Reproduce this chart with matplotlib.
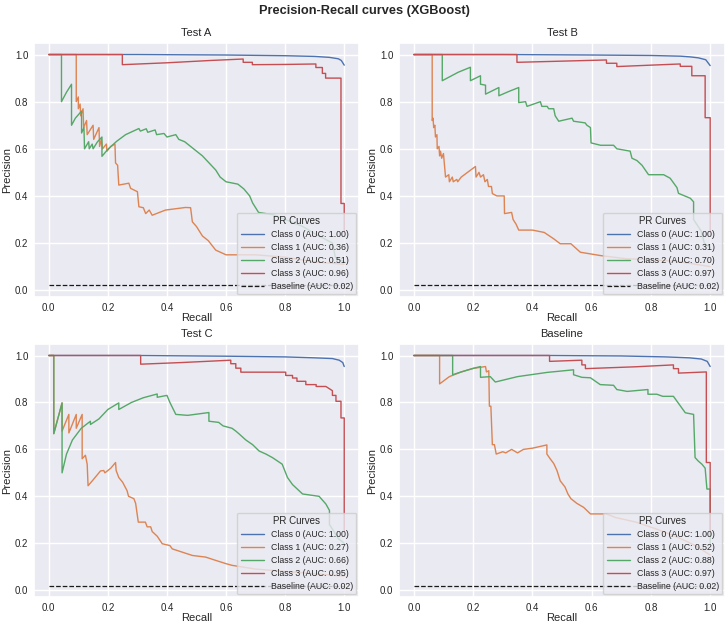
import numpy as np
import matplotlib
matplotlib.use('Agg')
import matplotlib.pyplot as plt
import seaborn as sns

# %% data (recall, precision) vertices
titles = ['Test A', 'Test B', 'Test C', 'Baseline']
auc_a = [1.00, 0.36, 0.51, 0.96]
auc_b = [1.00, 0.31, 0.70, 0.97]
auc_c = [1.00, 0.27, 0.66, 0.95]
auc_d = [1.00, 0.52, 0.88, 0.97]
baseline_auc = 0.02
baseline_prec = 0.02

a_class0 = [(0, 1), (0.3, 1), (0.6, 0.998), (0.8, 0.995), (0.9, 0.992), (0.95, 0.988),
            (0.98, 0.982), (0.99, 0.975), (1.0, 0.955)]
a_class1 = [(0, 1), (0.093, 1), (0.093, 0.80), (0.100, 0.82), (0.100, 0.77), (0.106, 0.79),
            (0.108, 0.74), (0.116, 0.77), (0.118, 0.69), (0.128, 0.72), (0.130, 0.66),
            (0.150, 0.70), (0.152, 0.64), (0.170, 0.69), (0.172, 0.61), (0.178, 0.64),
            (0.182, 0.60), (0.195, 0.62), (0.197, 0.59), (0.210, 0.61), (0.224, 0.62),
            (0.226, 0.54), (0.233, 0.53), (0.237, 0.446), (0.271, 0.454), (0.277, 0.432),
            (0.30, 0.418), (0.305, 0.354), (0.32, 0.35), (0.328, 0.325), (0.34, 0.34),
            (0.35, 0.318), (0.395, 0.34), (0.463, 0.351), (0.48, 0.35), (0.486, 0.29),
            (0.50, 0.27), (0.52, 0.23), (0.54, 0.21), (0.565, 0.17), (0.6, 0.15),
            (0.7, 0.15), (0.8, 0.14), (0.9, 0.12), (1.0, 0.11)]
a_class2 = [(0, 1), (0.043, 1), (0.043, 0.80), (0.06, 0.84), (0.077, 0.874), (0.077, 0.70),
            (0.09, 0.73), (0.111, 0.76), (0.111, 0.667), (0.119, 0.69), (0.121, 0.60),
            (0.135, 0.63), (0.137, 0.60), (0.147, 0.62), (0.15, 0.60), (0.165, 0.63),
            (0.18, 0.65), (0.18, 0.568), (0.20, 0.598), (0.23, 0.632), (0.26, 0.66),
            (0.305, 0.686), (0.31, 0.675), (0.33, 0.685), (0.335, 0.67), (0.36, 0.68),
            (0.365, 0.66), (0.39, 0.665), (0.40, 0.65), (0.43, 0.66), (0.44, 0.64),
            (0.46, 0.63), (0.48, 0.61), (0.50, 0.59), (0.52, 0.57), (0.535, 0.55),
            (0.565, 0.51), (0.58, 0.48), (0.60, 0.46), (0.64, 0.45), (0.66, 0.43),
            (0.68, 0.40), (0.69, 0.37), (0.71, 0.33), (0.76, 0.32), (0.82, 0.29),
            (0.86, 0.27), (0.9, 0.24), (0.96, 0.20), (0.97, 0.14), (1.0, 0.12)]
a_class3 = [(0, 1), (0.249, 1), (0.249, 0.957), (0.40, 0.965), (0.55, 0.975), (0.658, 0.981),
            (0.658, 0.967), (0.689, 0.967), (0.689, 0.957), (0.80, 0.958), (0.904, 0.96),
            (0.904, 0.945), (0.926, 0.945), (0.926, 0.92), (0.937, 0.92), (0.937, 0.90),
            (0.989, 0.90), (0.989, 0.368), (1.0, 0.368), (1.0, 0.25)]

b_class0 = [(0, 1), (0.3, 1), (0.6, 0.998), (0.8, 0.996), (0.9, 0.993), (0.933, 0.99),
            (0.96, 0.986), (0.985, 0.978), (1.0, 0.953)]
b_class1 = [(0, 1), (0.062, 1), (0.062, 0.72), (0.065, 0.73), (0.067, 0.69), (0.071, 0.70),
            (0.073, 0.65), (0.078, 0.66), (0.079, 0.60), (0.085, 0.61), (0.087, 0.57),
            (0.09, 0.59), (0.094, 0.56), (0.100, 0.58), (0.107, 0.48), (0.118, 0.49),
            (0.12, 0.46), (0.13, 0.48), (0.133, 0.46), (0.145, 0.47), (0.148, 0.46),
            (0.16, 0.48), (0.208, 0.525), (0.21, 0.48), (0.22, 0.50), (0.225, 0.48),
            (0.235, 0.49), (0.24, 0.46), (0.248, 0.47), (0.252, 0.44), (0.262, 0.44),
            (0.265, 0.41), (0.28, 0.40), (0.305, 0.40), (0.306, 0.325), (0.33, 0.33),
            (0.335, 0.30), (0.345, 0.28), (0.354, 0.255), (0.40, 0.255), (0.44, 0.245),
            (0.472, 0.218), (0.494, 0.197), (0.53, 0.197), (0.562, 0.161), (0.629, 0.147),
            (0.719, 0.133), (0.8, 0.13), (0.9, 0.12), (1.0, 0.10)]
b_class2 = [(0, 1), (0.096, 1), (0.096, 0.889), (0.12, 0.905), (0.15, 0.925), (0.191, 0.946),
            (0.191, 0.889), (0.225, 0.91), (0.225, 0.874), (0.242, 0.87), (0.242, 0.832),
            (0.287, 0.86), (0.287, 0.825), (0.32, 0.843), (0.354, 0.86), (0.354, 0.796),
            (0.377, 0.80), (0.382, 0.78), (0.427, 0.80), (0.432, 0.78), (0.45, 0.78),
            (0.455, 0.77), (0.472, 0.77), (0.477, 0.74), (0.489, 0.717), (0.534, 0.73),
            (0.539, 0.717), (0.578, 0.71), (0.584, 0.70), (0.596, 0.69), (0.598, 0.625),
            (0.63, 0.615), (0.674, 0.615), (0.685, 0.60), (0.73, 0.59), (0.736, 0.56),
            (0.753, 0.55), (0.77, 0.53), (0.792, 0.49), (0.843, 0.49), (0.865, 0.475),
            (0.888, 0.435), (0.893, 0.411), (0.933, 0.39), (0.944, 0.375), (0.944, 0.30),
            (0.97, 0.25), (0.98, 0.20), (1.0, 0.18)]
b_class3 = [(0, 1), (0.348, 1), (0.348, 0.967), (0.5, 0.972), (0.65, 0.977), (0.65, 0.963),
            (0.685, 0.963), (0.685, 0.949), (0.8, 0.955), (0.899, 0.96), (0.899, 0.95),
            (0.938, 0.95), (0.938, 0.91), (0.983, 0.91), (0.983, 0.732), (1.0, 0.732),
            (1.0, 0.25)]

c_class0 = [(0, 1), (0.3, 1), (0.6, 0.997), (0.8, 0.994), (0.9, 0.99), (0.96, 0.987),
            (0.983, 0.98), (0.995, 0.97), (1.0, 0.953)]
c_class1 = [(0, 1), (0.017, 1), (0.017, 0.667), (0.045, 0.798), (0.045, 0.678),
            (0.068, 0.749), (0.068, 0.67), (0.093, 0.749), (0.093, 0.69), (0.113, 0.749),
            (0.113, 0.56), (0.124, 0.575), (0.13, 0.537), (0.133, 0.445), (0.15, 0.47),
            (0.175, 0.508), (0.186, 0.51), (0.19, 0.50), (0.2, 0.51), (0.21, 0.52),
            (0.226, 0.544), (0.228, 0.51), (0.237, 0.48), (0.25, 0.46), (0.265, 0.424),
            (0.27, 0.40), (0.288, 0.39), (0.294, 0.37), (0.303, 0.29), (0.327, 0.29),
            (0.333, 0.27), (0.345, 0.27), (0.35, 0.25), (0.367, 0.23), (0.384, 0.198),
            (0.41, 0.19), (0.418, 0.176), (0.452, 0.162), (0.486, 0.148), (0.531, 0.141),
            (0.565, 0.127), (0.6, 0.113), (0.62, 0.106), (0.7, 0.09), (0.8, 0.08),
            (0.9, 0.07), (1.0, 0.06)]
c_class2 = [(0, 1), (0.017, 1), (0.017, 0.667), (0.045, 0.798), (0.045, 0.50), (0.06, 0.58),
            (0.08, 0.64), (0.11, 0.69), (0.141, 0.72), (0.141, 0.706), (0.17, 0.73),
            (0.20, 0.77), (0.237, 0.798), (0.237, 0.77), (0.28, 0.80), (0.32, 0.82),
            (0.367, 0.836), (0.367, 0.822), (0.40, 0.83), (0.41, 0.80), (0.43, 0.749),
            (0.47, 0.745), (0.542, 0.757), (0.542, 0.72), (0.575, 0.715), (0.59, 0.70),
            (0.62, 0.69), (0.633, 0.678), (0.645, 0.665), (0.667, 0.64), (0.69, 0.62),
            (0.712, 0.593), (0.735, 0.58), (0.757, 0.565), (0.79, 0.537), (0.808, 0.48),
            (0.825, 0.45), (0.859, 0.41), (0.915, 0.40), (0.938, 0.367), (0.95, 0.34),
            (0.95, 0.28), (0.98, 0.22), (1.0, 0.20)]
c_class3 = [(0, 1), (0.311, 1), (0.311, 0.963), (0.45, 0.97), (0.616, 0.98), (0.616, 0.965),
            (0.633, 0.965), (0.633, 0.946), (0.65, 0.946), (0.65, 0.929), (0.802, 0.929),
            (0.802, 0.915), (0.825, 0.915), (0.825, 0.904), (0.84, 0.904), (0.84, 0.89),
            (0.87, 0.89), (0.87, 0.876), (0.905, 0.876), (0.905, 0.868), (0.938, 0.868),
            (0.96, 0.85), (0.96, 0.83), (0.972, 0.83), (0.972, 0.805), (0.989, 0.805),
            (0.989, 0.734), (1.0, 0.734), (1.0, 0.25)]

d_class0 = [(0, 1), (0.45, 1), (0.7, 0.998), (0.85, 0.994), (0.93, 0.99), (0.97, 0.985),
            (0.99, 0.975), (1.0, 0.953)]
d_class1 = [(0, 1), (0.087, 1), (0.087, 0.879), (0.12, 0.91), (0.16, 0.93), (0.2, 0.945),
            (0.242, 0.953), (0.245, 0.93), (0.253, 0.935), (0.255, 0.784), (0.26, 0.784),
            (0.265, 0.62), (0.272, 0.62), (0.278, 0.58), (0.30, 0.59), (0.31, 0.585),
            (0.33, 0.60), (0.35, 0.585), (0.37, 0.60), (0.40, 0.605), (0.449, 0.619),
            (0.449, 0.58), (0.46, 0.56), (0.472, 0.54), (0.483, 0.51), (0.494, 0.466),
            (0.51, 0.44), (0.52, 0.41), (0.53, 0.39), (0.55, 0.37), (0.573, 0.353),
            (0.596, 0.325), (0.65, 0.325), (0.68, 0.31), (0.75, 0.29), (0.82, 0.26),
            (0.9, 0.22), (0.95, 0.19), (1.0, 0.15)]
d_class2 = [(0, 1), (0.131, 1), (0.131, 0.918), (0.16, 0.93), (0.2, 0.945), (0.225, 0.953),
            (0.225, 0.907), (0.258, 0.91), (0.275, 0.887), (0.35, 0.91), (0.45, 0.928),
            (0.539, 0.939), (0.539, 0.918), (0.567, 0.907), (0.596, 0.905), (0.629, 0.876),
            (0.674, 0.873), (0.685, 0.855), (0.72, 0.847), (0.79, 0.855), (0.79, 0.835),
            (0.82, 0.835), (0.84, 0.826), (0.876, 0.826), (0.888, 0.805), (0.904, 0.777),
            (0.916, 0.756), (0.944, 0.749), (0.949, 0.565), (0.96, 0.55), (0.972, 0.537),
            (0.983, 0.52), (0.989, 0.431), (1.0, 0.431), (1.0, 0.2)]
d_class3 = [(0, 1), (0.458, 1), (0.458, 0.975), (0.567, 0.98), (0.567, 0.96), (0.579, 0.96),
            (0.579, 0.944), (0.75, 0.952), (0.876, 0.96), (0.876, 0.944), (0.893, 0.944),
            (0.893, 0.925), (0.987, 0.93), (0.987, 0.544), (1.0, 0.544), (1.0, 0.25)]

curves = [
    [a_class0, a_class1, a_class2, a_class3],
    [b_class0, b_class1, b_class2, b_class3],
    [c_class0, c_class1, c_class2, c_class3],
    [d_class0, d_class1, d_class2, d_class3],
]
aucs = [auc_a, auc_b, auc_c, auc_d]

# %% style
sns.set_theme(style='darkgrid')
plt.rcParams['font.family'] = ['Liberation Sans', 'DejaVu Sans']
colors = sns.color_palette('deep', 4)

fig = plt.figure(figsize=(7.28, 6.25), dpi=100)
W, H = 728, 625
boxes = [(34, 43, 359, 297), (399, 43, 725, 297),
         (34, 344, 359, 597), (399, 344, 725, 597)]

for k, (x0, y0, x1, y1) in enumerate(boxes):
    ax = fig.add_axes([x0 / W, 1 - y1 / H, (x1 - x0) / W, (y1 - y0) / H])
    for i, pts in enumerate(curves[k]):
        pts = np.array(pts)
        ax.plot(pts[:, 0], pts[:, 1], color=colors[i], lw=1.0,
                label=f'Class {i} (AUC: {aucs[k][i]:.2f})')
    ax.plot([0, 1], [baseline_prec, baseline_prec], 'k--', lw=0.9,
            label=f'Baseline (AUC: {baseline_auc:.2f})')
    ax.set_xlim(-0.05, 1.05)
    ax.set_ylim(-0.029, 1.049)
    ax.set_xticks(np.arange(0, 1.01, 0.2))
    ax.set_yticks(np.arange(0, 1.01, 0.2))
    ax.tick_params(labelsize=7, pad=4, length=0)
    ax.set_xlabel('Recall', fontsize=8, labelpad=0)
    ax.set_ylabel('Precision', fontsize=8, labelpad=2)
    ax.set_title(titles[k], fontsize=8, pad=5)
    leg = ax.legend(title='PR Curves', loc='lower right', fontsize=6.3,
                    title_fontsize=7, borderaxespad=0.3, handlelength=2.6,
                    labelspacing=0.45)

fig.suptitle('Precision-Recall curves (XGBoost)', fontsize=9.2, fontweight='bold',
             y=0.992)

fig.savefig('out.png', dpi=100)
